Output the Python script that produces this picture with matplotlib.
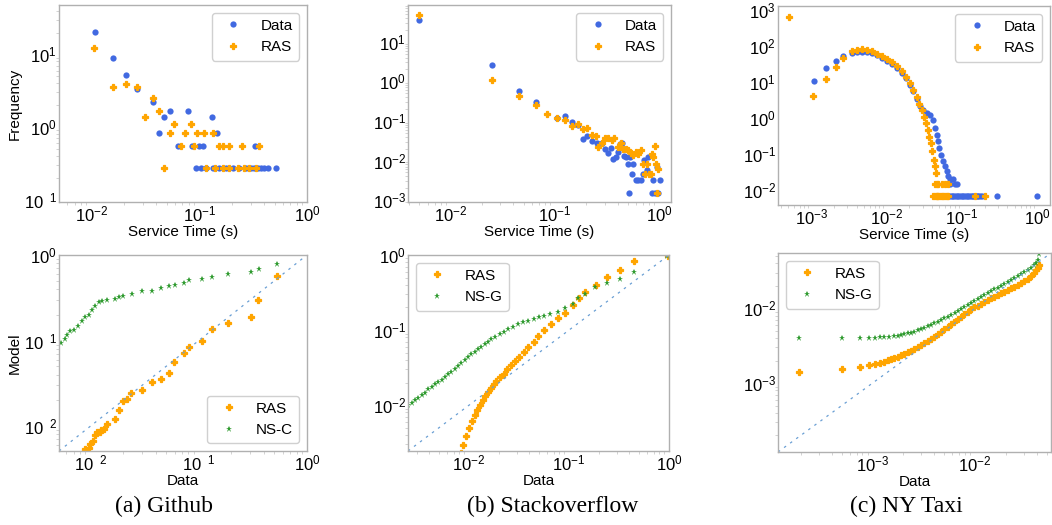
import numpy as np
import matplotlib
matplotlib.use('Agg')
import matplotlib.pyplot as plt
from matplotlib.ticker import FixedLocator, FixedFormatter, LogLocator

# ---- (a) Github, frequency plot
gh_data_x = [-1.969, -1.799, -1.676, -1.577, -1.429, -1.373, -1.324, -1.275, -1.198, -1.105,
             -1.065, -1.003, -0.960, -0.883, -0.833, -0.478,
             -1.028, -0.981, -0.935, -0.873, -0.812, -0.750, -0.688, -0.633, -0.565, -0.519,
             -0.488, -0.457, -0.426, -0.395, -0.364, -0.287]
gh_data_y = [1.312, 0.950, 0.722, 0.522, 0.346, -0.080, 0.143, 0.220, -0.256, 0.220,
             -0.256, -0.256, -0.256, 0.143, -0.080, -0.256,
             -0.557, -0.557, -0.557, -0.557, -0.557, -0.557, -0.557, -0.557, -0.557, -0.557,
             -0.557, -0.557, -0.557, -0.557, -0.557, -0.557]
gh_ras_x = [-1.975, -1.799, -1.676, -1.577, -1.500, -1.429, -1.373, -1.324, -1.275, -1.238,
            -1.167, -1.130, -1.074, -1.049, -1.019, -0.957, -0.873, -0.818, -0.775, -0.725,
            -0.605, -0.441,
            -0.935, -0.849, -0.781, -0.719, -0.642, -0.580, -0.540, -0.472]
gh_ras_y = [1.086, 0.556, 0.589, 0.556, 0.143, 0.398, 0.220, -0.557, -0.080, 0.045,
            -0.256, -0.080, 0.045, -0.256, -0.080, -0.080, -0.080, -0.256, -0.256, -0.256,
            -0.256, -0.256,
            -0.557, -0.557, -0.557, -0.557, -0.557, -0.557, -0.557, -0.557]

# ---- (b) Stackoverflow, frequency plot
so_data_x = [-2.304, -1.600, -1.343, -1.183, -0.978, -0.904, -0.833, -0.782, -0.728, -0.689,
             -0.647, -0.593, -0.551, -0.519, -0.487, -0.465, -0.439, -0.417, -0.397, -0.375,
             -0.359, -0.337, -0.317, -0.295, -0.279, -0.263, -0.247, -0.221, -0.199, -0.173,
             -0.157, -0.144, -0.119, -0.109, -0.071, -0.061, -0.038, -0.022, -0.006, 0.010,
             -0.285]
so_data_y = [1.542, 0.417, -0.250, -0.525, -0.917, -0.875, -1.025, -1.100, -1.458, -1.375,
             -1.500, -1.567, -1.567, -1.708, -1.817, -1.683, -1.958, -1.917, -1.792, -1.583,
             -1.567, -1.875, -1.917, -2.100, -1.917, -2.333, -2.083, -2.500, -2.500, -2.500,
             -2.333, -2.000, -2.250, -1.917, -2.817, -2.500, -2.817, -2.167, -2.817, -2.500,
             -2.817]
so_ras_x = [-2.304, -1.600, -1.343, -1.183, -1.071, -0.978, -0.904, -0.833, -0.782, -0.734,
            -0.689, -0.647, -0.606, -0.583, -0.551, -0.519, -0.487, -0.455, -0.429, -0.397,
            -0.369, -0.343, -0.317, -0.295, -0.269, -0.247, -0.221, -0.199, -0.176, -0.151,
            -0.135, -0.119, -0.096, -0.077, -0.071, -0.054, -0.038, -0.029, -0.022, -0.006]
so_ras_y = [1.667, 0.025, -0.367, -0.600, -0.833, -0.933, -0.983, -1.125, -1.083, -1.208,
            -1.183, -1.350, -1.375, -1.667, -1.567, -1.442, -1.442, -1.483, -1.442, -1.667,
            -1.567, -1.708, -1.708, -1.733, -1.817, -1.850, -1.792, -1.833, -1.733, -2.083,
            -2.333, -2.083, -2.333, -2.333, -1.833, -1.917, -1.625, -2.083, -2.817, -2.208]

# ---- (c) NY Taxi, frequency plot
ny_data_x = [-2.969, -2.801, -2.673, -2.572, -2.461, -2.395, -2.329, -2.263, -2.196, -2.130,
             -2.064, -1.998, -1.932, -1.865, -1.799, -1.742, -1.689, -1.645, -1.600, -1.556,
             -1.512, -1.468, -1.424, -1.389, -1.358, -1.336, -1.322, -1.300, -1.278, -1.256,
             -1.225, -1.203, -1.181, -1.159, -1.093,
             -1.292, -1.270, -1.248, -1.226, -1.204, -1.182, -1.160, -1.138, -1.116, -1.094,
             -1.072, -1.050, -1.028, -1.006, -0.984, -0.962, -0.940, -0.918, -0.896, -0.874,
             -0.852, -0.830, -0.808, -0.786, -0.764, -0.742, -0.541, -0.011,
             -1.204, -1.160, -1.116, -1.072]
ny_data_y = [1.041, 1.379, 1.589, 1.726, 1.817, 1.836, 1.845, 1.836, 1.800, 1.744,
             1.680, 1.589, 1.498, 1.388, 1.260, 1.114, 0.932, 0.749, 0.539, 0.329,
             0.219, 0.146, 0.082, -0.055, -0.283, -0.466, -0.648, -0.831, -1.014, -1.196,
             -1.333, -1.470, -1.607, -1.699, -1.836,
             -2.155, -2.155, -2.155, -2.155, -2.155, -2.155, -2.155, -2.155, -2.155, -2.155,
             -2.155, -2.155, -2.155, -2.155, -2.155, -2.155, -2.155, -2.155, -2.155, -2.155,
             -2.155, -2.155, -2.155, -2.155, -2.155, -2.155, -2.155, -2.155,
             -1.836, -1.836, -1.680, -1.836]
ny_ras_x = [-3.300, -2.978, -2.801, -2.673, -2.572, -2.461, -2.395, -2.329, -2.263, -2.196,
            -2.130, -2.064, -1.998, -1.932, -1.865, -1.799, -1.742, -1.689, -1.645, -1.600,
            -1.565, -1.534, -1.503, -1.477, -1.455, -1.433, -1.415, -1.393, -1.371, -1.358,
            -1.344, -1.336, -1.327,
            -1.380, -1.358, -1.336, -1.314, -1.292, -1.270, -1.248, -1.226, -1.204, -1.182,
            -0.828, -0.695,
            -1.358, -1.314, -1.270, -1.226, -1.182]
ny_ras_y = [2.804, 0.612, 1.078, 1.406, 1.662, 1.863, 1.890, 1.909, 1.890, 1.863,
            1.790, 1.717, 1.635, 1.543, 1.434, 1.297, 1.151, 0.968, 0.785, 0.584,
            0.402, 0.219, 0.037, -0.146, -0.329, -0.511, -0.694, -0.922, -1.151, -1.333,
            -1.516, -1.836, -2.155,
            -2.155, -2.155, -2.155, -2.155, -2.155, -2.155, -2.155, -2.155, -2.155, -2.155,
            -2.155, -2.155,
            -1.836, -1.836, -1.836, -1.836, -1.836]

# ---- (a) Github, QQ plot
gh_qq_ras_x = [-2.060, -2.046, -2.016, -2.000, -1.975, -1.960, -1.938, -1.914, -1.900, -1.877,
               -1.846, -1.770, -1.739, -1.702, -1.662, -1.622, -1.524, -1.431, -1.348, -1.278,
               -1.226, -1.140, -1.088, -0.965, -0.873, -0.731, -0.516, -0.455, -0.280]
gh_qq_ras_y = [-2.306, -2.270, -2.260, -2.210, -2.170, -2.105, -2.073, -2.066, -2.047, -2.035,
               -1.977, -1.919, -1.810, -1.705, -1.678, -1.616, -1.581, -1.484, -1.453, -1.384,
               -1.248, -1.143, -1.078, -1.008, -0.864, -0.798, -0.721, -0.523, -0.244]
gh_qq_nsc_x = [-2.276, -2.237, -2.215, -2.184, -2.147, -2.117, -2.077, -2.046, -2.016, -1.984,
               -1.954, -1.923, -1.892, -1.846, -1.770, -1.733, -1.700, -1.616, -1.524, -1.431,
               -1.348, -1.278, -1.223, -1.140, -1.088, -0.965, -0.873, -0.731, -0.520, -0.442,
               -0.280]
gh_qq_nsc_y = [-1.027, -0.980, -0.930, -0.890, -0.872, -0.833, -0.775, -0.725, -0.698, -0.640,
               -0.600, -0.554, -0.535, -0.523, -0.510, -0.490, -0.477, -0.453, -0.426, -0.415,
               -0.387, -0.368, -0.349, -0.322, -0.290, -0.283, -0.252, -0.225, -0.194, -0.167,
               -0.108]

# ---- (b) Stackoverflow, QQ plot
so_qq_ras_x = [-2.083, -2.060, -2.027, -2.003, -1.970, -1.943, -1.920, -1.894, -1.861, -1.838,
               -1.811, -1.778, -1.751, -1.728, -1.694, -1.655, -1.619, -1.579, -1.539, -1.496,
               -1.453, -1.406, -1.353, -1.307, -1.254, -1.181, -1.108, -1.042, -0.965, -0.899,
               -0.839, -0.730, -0.624, -0.491, -0.355, -0.010]
so_qq_ras_y = [-2.636, -2.524, -2.413, -2.298, -2.213, -2.133, -2.058, -1.991, -1.933, -1.880,
               -1.822, -1.769, -1.720, -1.676, -1.631, -1.578, -1.524, -1.467, -1.413, -1.356,
               -1.298, -1.231, -1.156, -1.080, -1.000, -0.920, -0.840, -0.769, -0.667, -0.578,
               -0.489, -0.400, -0.298, -0.200, -0.080, -0.009]
so_qq_nsg_x = [-2.607, -2.574, -2.541, -2.507, -2.474, -2.441, -2.408, -2.375, -2.342, -2.308,
               -2.275, -2.242, -2.209, -2.176, -2.143, -2.109, -2.076, -2.043, -2.010, -1.977,
               -1.943, -1.910, -1.877, -1.844, -1.811, -1.778, -1.738, -1.694, -1.652, -1.612,
               -1.562, -1.512, -1.456, -1.406, -1.353, -1.297, -1.247, -1.187, -1.114, -1.042,
               -0.965, -0.909, -0.843, -0.736, -0.624, -0.488, -0.355, -0.017]
so_qq_nsg_y = [-2.000, -1.969, -1.933, -1.898, -1.867, -1.831, -1.791, -1.756, -1.720, -1.689,
               -1.658, -1.631, -1.591, -1.556, -1.516, -1.480, -1.436, -1.400, -1.356, -1.320,
               -1.289, -1.258, -1.222, -1.187, -1.156, -1.124, -1.089, -1.053, -1.022, -0.991,
               -0.956, -0.924, -0.898, -0.876, -0.853, -0.831, -0.813, -0.791, -0.756, -0.711,
               -0.653, -0.578, -0.524, -0.422, -0.378, -0.324, -0.222, -0.013]

# ---- (c) NY Taxi, QQ plot
ny_qq_ras_x = [-3.711, -3.295, -3.120, -3.029, -2.974, -2.925, -2.883, -2.850, -2.818, -2.786,
               -2.753, -2.721, -2.688, -2.656, -2.623, -2.591, -2.558, -2.526, -2.494, -2.461,
               -2.428, -2.396, -2.363, -2.331, -2.299, -2.266, -2.234, -2.201, -2.168, -2.136,
               -2.104, -2.071, -2.039, -2.007, -1.974, -1.942, -1.909, -1.877, -1.844, -1.812,
               -1.779, -1.747, -1.715, -1.682, -1.650, -1.617, -1.584, -1.552, -1.520, -1.487,
               -1.455, -1.429, -1.406, -1.390, -1.374]
ny_qq_ras_y = [-2.845, -2.813, -2.778, -2.756, -2.742, -2.724, -2.711, -2.694, -2.680, -2.663,
               -2.644, -2.627, -2.609, -2.587, -2.564, -2.543, -2.520, -2.494, -2.467, -2.440,
               -2.409, -2.378, -2.347, -2.316, -2.280, -2.245, -2.209, -2.178, -2.142, -2.112,
               -2.076, -2.045, -2.013, -1.987, -1.964, -1.938, -1.912, -1.889, -1.867, -1.845,
               -1.823, -1.800, -1.779, -1.756, -1.733, -1.712, -1.689, -1.663, -1.636, -1.605,
               -1.569, -1.534, -1.489, -1.454, -1.423]
ny_qq_nsg_x = [-3.711, -3.295, -3.120, -3.029, -2.974, -2.925, -2.883, -2.834, -2.786, -2.753,
               -2.720, -2.688, -2.655, -2.623, -2.591, -2.558, -2.526, -2.493, -2.461, -2.428,
               -2.396, -2.364, -2.331, -2.299, -2.266, -2.234, -2.200, -2.169, -2.136, -2.104,
               -2.071, -2.039, -2.007, -1.974, -1.942, -1.909, -1.876, -1.844, -1.812, -1.779,
               -1.747, -1.714, -1.682, -1.650, -1.617, -1.585, -1.552, -1.520, -1.487, -1.455,
               -1.423, -1.406, -1.390, -1.374]
ny_qq_nsg_y = [-2.400, -2.400, -2.400, -2.390, -2.390, -2.387, -2.387, -2.378, -2.369, -2.365,
               -2.356, -2.347, -2.333, -2.325, -2.311, -2.294, -2.276, -2.258, -2.236, -2.218,
               -2.200, -2.178, -2.156, -2.134, -2.112, -2.089, -2.067, -2.040, -2.013, -1.987,
               -1.956, -1.929, -1.902, -1.880, -1.853, -1.827, -1.800, -1.774, -1.747, -1.725,
               -1.698, -1.672, -1.645, -1.618, -1.591, -1.569, -1.542, -1.516, -1.489, -1.458,
               -1.422, -1.392, -1.356, -1.280]

BLUE = 'royalblue'
ORANGE = 'orange'
GREEN = '#2e9a2e'

plt.rcParams['font.family'] = ['Liberation Sans', 'DejaVu Sans']
plt.rcParams['mathtext.fontset'] = 'custom'
plt.rcParams['mathtext.rm'] = 'Liberation Sans'
plt.rcParams['mathtext.it'] = 'Liberation Sans:italic'
plt.rcParams['mathtext.bf'] = 'Liberation Sans:bold'

W, H = 1052, 525
fig = plt.figure(figsize=(W / 100, H / 100), dpi=100)


def box(l, t, r, b):
    return [l / W, 1 - b / H, (r - l) / W, (b - t) / H]


def p(v):
    return 10 ** np.array(v)


def style(ax):
    ax.set_xscale('log')
    ax.set_yscale('log')
    ax.xaxis.set_major_locator(LogLocator(base=10, numticks=15))
    ax.yaxis.set_major_locator(LogLocator(base=10, numticks=15))
    for s in ax.spines.values():
        s.set_color('#b0b0b0')
        s.set_linewidth(1.0)
    ax.tick_params(which='major', length=0, labelsize=12, pad=1.5)
    ax.tick_params(which='minor', length=2, color='#cccccc', width=0.6)


def leg(ax, loc):
    ax.legend(loc=loc, fontsize=11, numpoints=1, frameon=True, fancybox=True,
              edgecolor='#d0d0d0', framealpha=1.0)


def broken(ax, axis, ticks, labels):
    a = ax.xaxis if axis == 'x' else ax.yaxis
    a.set_major_locator(FixedLocator(ticks))
    a.set_major_formatter(FixedFormatter(labels))


def dat(ax, x, y):
    ax.plot(p(x), p(y), 'o', color=BLUE, ms=4.5, mew=0, label='Data')


def ras(ax, x, y):
    ax.plot(p(x), p(y), 'P', color=ORANGE, ms=5, mew=0.9, mec=ORANGE, label='RAS')


def ns(ax, x, y, name):
    ax.plot(p(x), p(y), '*', color=GREEN, ms=5, mew=0, label=name)


def diag(ax, lo, hi):
    ax.plot([10 ** lo, 10 ** hi], [10 ** lo, 10 ** hi], color='#6a9fd4',
            lw=0.9, ls=(0, (2, 4)))
    ax.set_xlim(10 ** lo, 10 ** hi)
    ax.set_ylim(10 ** lo, 10 ** hi)


def xlab(ax, t):
    ax.set_xlabel(t, fontsize=11, labelpad=1)


def ylab(ax, t, x):
    ax.set_ylabel(t, fontsize=11)
    ax.yaxis.set_label_coords(x, 0.5)


gap1 = r'$\mathdefault{10^{\ \ 1}}$'
gap2 = r'$\mathdefault{10^{\ \ 2}}$'
one = r'$\mathdefault{10^{0}}$'

# top row
ax = fig.add_axes(box(59, 5, 307, 202))
style(ax)
dat(ax, gh_data_x, gh_data_y)
ras(ax, gh_ras_x, gh_ras_y)
ax.set_xlim(10 ** -2.3, 1)
ax.set_ylim(10 ** -1.03, 10 ** 1.68)
broken(ax, 'y', [0.1, 1, 10], [gap1, one, r'$\mathdefault{10^{1}}$'])
xlab(ax, 'Service Time (s)')
ylab(ax, 'Frequency', -0.15)
leg(ax, 'upper right')

ax = fig.add_axes(box(408, 5, 671, 202))
style(ax)
dat(ax, so_data_x, so_data_y)
ras(ax, so_ras_x, so_ras_y)
ax.set_xlim(10 ** -2.41, 10 ** 0.115)
ax.set_ylim(10 ** -3.05, 10 ** 1.93)
xlab(ax, 'Service Time (s)')
leg(ax, 'upper right')

ax = fig.add_axes(box(778, 6, 1050, 205))
style(ax)
dat(ax, ny_data_x, ny_data_y)
ras(ax, ny_ras_x, ny_ras_y)
ax.set_xlim(10 ** -3.44, 10 ** 0.166)
ax.set_ylim(10 ** -2.41, 10 ** 3.11)
xlab(ax, 'Service Time (s)')
leg(ax, 'upper right')

# bottom row
ax = fig.add_axes(box(59, 255, 307, 451))
style(ax)
ras(ax, gh_qq_ras_x, gh_qq_ras_y)
ns(ax, gh_qq_nsc_x, gh_qq_nsc_y, 'NS-C')
diag(ax, -2.29, 0)
broken(ax, 'x', [0.01, 0.1, 1], [gap2, gap1, one])
broken(ax, 'y', [0.01, 0.1, 1], [gap2, gap1, one])
xlab(ax, 'Data')
ylab(ax, 'Model', -0.15)
leg(ax, 'lower right')

ax = fig.add_axes(box(408, 255, 669, 451))
style(ax)
ras(ax, so_qq_ras_x, so_qq_ras_y)
ns(ax, so_qq_nsg_x, so_qq_nsg_y, 'NS-G')
diag(ax, -2.61, 0)
xlab(ax, 'Data')
leg(ax, 'upper left')

ax = fig.add_axes(box(778, 253, 1051, 452))
style(ax)
ras(ax, ny_qq_ras_x, ny_qq_ras_y)
ns(ax, ny_qq_nsg_x, ny_qq_nsg_y, 'NS-G')
diag(ax, -3.92, -1.26)
xlab(ax, 'Data')
leg(ax, 'upper left')

for x, t in [(164, '(a) Github'), (553, '(b) Stackoverflow'), (906, '(c) NY Taxi')]:
    fig.text(x / W, 1 - 506 / H, t, ha='center', va='center',
             family='Liberation Serif', fontsize=17)

fig.savefig('out.png', dpi=100)
